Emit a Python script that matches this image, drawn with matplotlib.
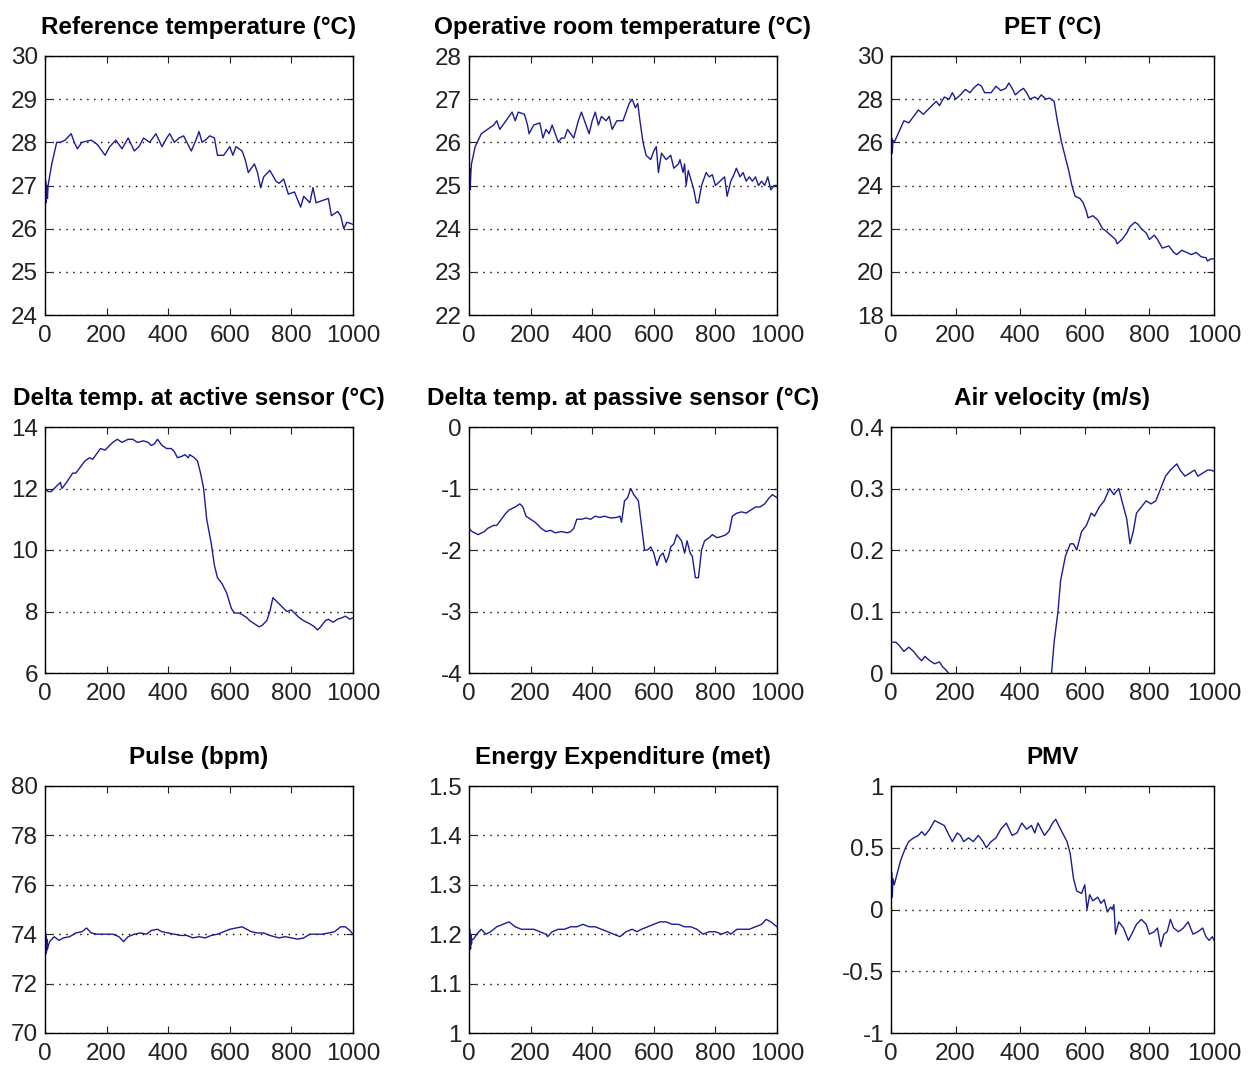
import numpy as np
import matplotlib
matplotlib.use('Agg')
from matplotlib import pyplot as plt

plt.rcParams['font.family'] = ['Liberation Sans', 'DejaVu Sans']

# sample index (x) and value pairs for each recorded signal
t_ref = [0, 2, 4, 6, 8, 10, 22, 38, 50, 65, 85, 95, 105, 120, 150, 170, 195, 210, 230, 250, 270,
         290, 305, 320, 340, 360, 380, 395, 405, 420, 435, 450, 475, 490, 500, 510, 520, 535, 550,
         560, 580, 600, 610, 620, 640, 650, 660, 680, 690, 700, 710, 730, 750, 760, 775, 790, 810,
         830, 840, 860, 870, 880, 900, 920, 930, 950, 960, 970, 980, 1000]
ref_temp = [26.5, 27.1, 26.6, 27.0, 26.7, 27.0, 27.5, 28.0, 28.0, 28.05, 28.2, 28.0, 27.85, 28.0,
            28.05, 27.95, 27.7, 27.9, 28.05, 27.85, 28.1, 27.8, 27.9, 28.1, 28.0, 28.2, 27.9, 28.1,
            28.2, 28.0, 28.1, 28.15, 27.8, 28.05, 28.25, 28.0, 28.05, 28.15, 28.1, 27.7, 27.7, 27.9,
            27.7, 27.9, 27.8, 27.6, 27.3, 27.5, 27.3, 26.95, 27.2, 27.35, 27.1, 27.05, 27.15, 26.8,
            26.85, 26.5, 26.75, 26.6, 26.95, 26.6, 26.65, 26.7, 26.3, 26.4, 26.3, 26.0, 26.15, 26.1]

t_op = [0, 2, 4, 6, 8, 20, 40, 60, 80, 90, 100, 110, 130, 140, 150, 160, 180, 190, 195, 210, 230,
        240, 250, 260, 270, 280, 290, 300, 310, 320, 340, 355, 365, 380, 390, 400, 410, 420, 430,
        445, 455, 465, 480, 500, 510, 520, 530, 540, 548, 555, 565, 575, 590, 600, 608, 615, 625,
        640, 655, 665, 680, 685, 695, 700, 705, 712, 722, 730, 738, 745, 755, 770, 780, 790, 800,
        815, 830, 838, 850, 860, 868, 880, 890, 900, 910, 920, 930, 940, 950, 960, 970, 980, 990,
        1000]
op_temp = [24.8, 25.4, 24.9, 25.3, 25.5, 25.9, 26.2, 26.3, 26.4, 26.5, 26.3, 26.4, 26.6, 26.7,
           26.5, 26.7, 26.65, 26.4, 26.2, 26.4, 26.45, 26.1, 26.3, 26.2, 26.4, 26.2, 26.0, 26.1,
           26.1, 26.3, 26.1, 26.5, 26.7, 26.4, 26.2, 26.5, 26.7, 26.4, 26.6, 26.5, 26.6, 26.3,
           26.5, 26.5, 26.7, 26.9, 27.0, 26.8, 26.9, 26.5, 26.0, 25.7, 25.6, 25.8, 25.9, 25.3,
           25.75, 25.6, 25.7, 25.4, 25.5, 25.6, 25.3, 25.5, 25.0, 25.35, 25.1, 24.9, 24.6, 24.6,
           25.0, 25.3, 25.2, 25.25, 25.0, 25.1, 25.2, 24.75, 25.1, 25.25, 25.4, 25.2, 25.3, 25.1,
           25.2, 25.1, 25.2, 25.0, 25.1, 25.0, 25.2, 24.9, 25.0, 25.0]

t_pet = [0, 2, 4, 6, 10, 25, 40, 55, 65, 85, 100, 120, 140, 150, 165, 180, 190, 200, 215, 230,
         245, 255, 270, 280, 290, 310, 325, 340, 355, 365, 375, 385, 400, 410, 420, 430, 445, 455,
         465, 480, 490, 505, 515, 528, 545, 550, 560, 570, 585, 595, 605, 610, 625, 640, 655, 665,
         680, 695, 700, 715, 730, 740, 755, 765, 775, 790, 800, 815, 825, 840, 860, 875, 885, 900,
         915, 930, 945, 960, 975, 980, 990, 1000]
pet = [25.4, 26.2, 25.5, 26.1, 26.0, 26.5, 27.0, 26.9, 27.1, 27.5, 27.3, 27.6, 27.9, 27.7, 28.1,
       28.0, 28.3, 28.0, 28.2, 28.45, 28.3, 28.5, 28.7, 28.6, 28.3, 28.3, 28.6, 28.4, 28.5, 28.75,
       28.5, 28.2, 28.4, 28.5, 28.3, 28.0, 28.1, 28.0, 28.2, 28.0, 28.05, 27.9, 27.0, 26.0, 25.0,
       24.7, 24.0, 23.5, 23.4, 23.2, 22.8, 22.5, 22.6, 22.4, 22.0, 21.9, 21.7, 21.5, 21.3, 21.5,
       21.8, 22.1, 22.3, 22.2, 22.0, 21.8, 21.5, 21.7, 21.5, 21.1, 21.2, 20.9, 20.8, 21.0, 20.9,
       20.8, 20.9, 20.7, 20.65, 20.5, 20.6, 20.6]

t_act = [0, 10, 20, 40, 50, 55, 70, 90, 100, 115, 130, 145, 155, 180, 195, 220, 235, 250, 270,
         285, 300, 320, 335, 345, 355, 365, 380, 395, 410, 420, 430, 445, 455, 465, 470, 485, 495,
         505, 515, 525, 540, 550, 560, 575, 590, 605, 615, 630, 640, 655, 665, 680, 695, 705, 720,
         730, 740, 755, 770, 785, 800, 810, 825, 840, 860, 875, 885, 895, 910, 920, 935, 950, 965,
         975, 990, 1000]
d_active = [12.0, 11.9, 11.9, 12.1, 12.2, 12.0, 12.2, 12.5, 12.5, 12.7, 12.9, 13.0, 12.95, 13.3,
            13.25, 13.5, 13.6, 13.5, 13.6, 13.6, 13.5, 13.55, 13.5, 13.4, 13.45, 13.6, 13.4, 13.3,
            13.3, 13.2, 13.0, 13.05, 13.1, 13.0, 13.1, 13.0, 12.9, 12.5, 12.0, 11.0, 10.2, 9.5,
            9.1, 8.9, 8.6, 8.1, 7.95, 7.95, 7.9, 7.8, 7.7, 7.6, 7.5, 7.55, 7.7, 8.0, 8.45, 8.3,
            8.15, 8.0, 8.05, 7.95, 7.8, 7.7, 7.6, 7.5, 7.4, 7.5, 7.7, 7.75, 7.65, 7.75, 7.8, 7.85,
            7.75, 7.8]

t_pas = [0, 10, 30, 50, 60, 80, 90, 105, 120, 130, 150, 165, 175, 185, 200, 215, 235, 250, 265,
         280, 300, 320, 330, 340, 350, 365, 380, 395, 410, 425, 440, 460, 480, 490, 495, 505, 515,
         525, 535, 550, 560, 570, 580, 590, 600, 610, 620, 630, 640, 648, 655, 665, 675, 690, 700,
         708, 718, 725, 735, 745, 755, 765, 780, 790, 805, 820, 835, 845, 855, 870, 885, 900, 915,
         930, 945, 960, 975, 985, 1000]
d_passive = [-1.65, -1.7, -1.75, -1.7, -1.65, -1.6, -1.6, -1.5, -1.4, -1.35, -1.3, -1.25, -1.3,
             -1.45, -1.5, -1.55, -1.65, -1.7, -1.68, -1.72, -1.7, -1.72, -1.7, -1.65, -1.5, -1.5,
             -1.48, -1.5, -1.45, -1.47, -1.45, -1.48, -1.47, -1.45, -1.55, -1.2, -1.15, -1.0,
             -1.1, -1.2, -1.6, -2.0, -2.0, -1.95, -2.05, -2.25, -2.1, -2.05, -2.2, -2.1, -1.95,
             -1.9, -1.75, -1.85, -2.05, -1.85, -2.05, -2.1, -2.45, -2.45, -2.0, -1.85, -1.8,
             -1.75, -1.8, -1.78, -1.75, -1.7, -1.45, -1.4, -1.38, -1.4, -1.35, -1.3, -1.3, -1.25,
             -1.15, -1.1, -1.15]

t_air = [0, 15, 25, 40, 55, 70, 85, 95, 105, 120, 135, 150, 160, 170, 178, 190, 300, 400, 490,
         497, 505, 517, 525, 540, 555, 565, 575, 590, 605, 620, 630, 645, 660, 677, 690, 705, 715,
         730, 740, 750, 760, 775, 790, 805, 820, 835, 850, 865, 885, 895, 910, 925, 940, 950, 965,
         980, 990, 1000]
air_vel = [0.05, 0.05, 0.045, 0.035, 0.042, 0.035, 0.025, 0.02, 0.027, 0.02, 0.015, 0.018, 0.01,
           0.005, 0.0, -0.01, -0.03, -0.03, -0.01, 0.0, 0.05, 0.1, 0.15, 0.19, 0.21, 0.21, 0.2,
           0.23, 0.24, 0.26, 0.255, 0.27, 0.28, 0.3, 0.29, 0.3, 0.28, 0.25, 0.21, 0.23, 0.26,
           0.27, 0.28, 0.275, 0.28, 0.3, 0.32, 0.33, 0.34, 0.33, 0.32, 0.325, 0.33, 0.32, 0.325,
           0.33, 0.33, 0.328]

t_pulse = [0, 1, 2, 3, 4, 5, 6, 8, 10, 15, 30, 45, 60, 80, 100, 120, 135, 150, 170, 200, 220,
           240, 255, 270, 290, 310, 330, 345, 365, 380, 400, 420, 440, 460, 480, 500, 520, 540,
           560, 580, 600, 620, 640, 655, 670, 690, 710, 730, 745, 760, 780, 800, 820, 840, 860,
           880, 900, 920, 940, 960, 975, 990, 1000]
pulse = [73.9, 73.0, 74.0, 73.2, 73.9, 73.3, 73.8, 73.4, 73.5, 73.7, 73.9, 73.75, 73.85, 73.9,
         74.05, 74.1, 74.25, 74.05, 74.0, 74.0, 74.0, 73.9, 73.7, 73.9, 74.0, 74.05, 74.0, 74.15,
         74.2, 74.1, 74.05, 74.0, 73.95, 73.95, 73.85, 73.9, 73.85, 73.95, 74.0, 74.1, 74.2,
         74.25, 74.3, 74.2, 74.1, 74.05, 74.05, 73.95, 73.9, 73.85, 73.9, 73.85, 73.8, 73.85,
         74.0, 74.0, 74.0, 74.05, 74.1, 74.3, 74.3, 74.15, 74.0]

t_met = [0, 1, 2, 3, 4, 5, 6, 8, 10, 15, 25, 40, 55, 70, 90, 110, 130, 150, 170, 190, 210, 230,
         250, 255, 270, 290, 310, 330, 350, 370, 390, 410, 430, 450, 470, 490, 510, 530, 545,
         560, 580, 600, 620, 640, 660, 680, 700, 720, 740, 760, 780, 800, 820, 840, 850, 870,
         890, 910, 930, 950, 965, 980, 990, 1000]
met = [1.2, 1.16, 1.21, 1.17, 1.2, 1.17, 1.2, 1.18, 1.19, 1.19, 1.2, 1.21, 1.2, 1.205, 1.215,
       1.22, 1.225, 1.215, 1.21, 1.21, 1.21, 1.205, 1.2, 1.195, 1.205, 1.21, 1.21, 1.215,
       1.215, 1.22, 1.215, 1.215, 1.21, 1.205, 1.2, 1.195, 1.205, 1.21, 1.205, 1.21, 1.215,
       1.22, 1.225, 1.225, 1.22, 1.22, 1.215, 1.215, 1.21, 1.2, 1.205, 1.205, 1.2, 1.205, 1.2,
       1.21, 1.21, 1.21, 1.215, 1.22, 1.23, 1.225, 1.22, 1.215]

t_pmv = [0, 2, 4, 6, 10, 20, 30, 45, 55, 70, 85, 95, 105, 120, 135, 150, 165, 180, 190, 205,
         215, 225, 240, 255, 270, 285, 295, 310, 325, 340, 357, 375, 390, 405, 420, 435, 445,
         455, 465, 475, 490, 500, 510, 525, 535, 545, 555, 565, 575, 590, 600, 607, 615, 625,
         640, 650, 660, 670, 680, 685, 690, 695, 705, 720, 735, 745, 760, 775, 790, 800, 815,
         825, 835, 845, 855, 865, 875, 890, 905, 920, 935, 950, 965, 975, 985, 995, 1000]
pmv = [0.05, 0.3, 0.1, 0.25, 0.2, 0.3, 0.4, 0.5, 0.55, 0.58, 0.6, 0.63, 0.6, 0.65, 0.72, 0.7,
       0.68, 0.6, 0.55, 0.62, 0.6, 0.55, 0.58, 0.55, 0.6, 0.55, 0.5, 0.55, 0.58, 0.65, 0.7, 0.6,
       0.62, 0.7, 0.65, 0.68, 0.62, 0.7, 0.65, 0.6, 0.65, 0.7, 0.73, 0.65, 0.6, 0.55, 0.45,
       0.25, 0.15, 0.13, 0.2, 0.0, 0.12, 0.07, 0.1, 0.05, 0.08, -0.02, 0.02, 0.0, 0.04, -0.2,
       -0.1, -0.15, -0.25, -0.2, -0.12, -0.08, -0.12, -0.2, -0.18, -0.15, -0.3, -0.2, -0.18,
       -0.08, -0.15, -0.18, -0.15, -0.1, -0.2, -0.18, -0.15, -0.22, -0.25, -0.22, -0.25]

panels = [
    ('Reference temperature (°C)', t_ref, ref_temp, (24, 30), np.arange(24, 31, 1)),
    ('Operative room temperature (°C)', t_op, op_temp, (22, 28), np.arange(22, 29, 1)),
    ('PET (°C)', t_pet, pet, (18, 30), np.arange(18, 31, 2)),
    ('Delta temp. at active sensor (°C)', t_act, d_active, (6, 14), np.arange(6, 15, 2)),
    ('Delta temp. at passive sensor (°C)', t_pas, d_passive, (-4, 0), np.arange(-4, 1, 1)),
    ('Air velocity (m/s)', t_air, air_vel, (0, 0.4), [0, 0.1, 0.2, 0.3, 0.4]),
    ('Pulse (bpm)', t_pulse, pulse, (70, 80), np.arange(70, 81, 2)),
    ('Energy Expenditure (met)', t_met, met, (1, 1.5), [1, 1.1, 1.2, 1.3, 1.4, 1.5]),
    ('PMV', t_pmv, pmv, (-1, 1), [-1, -0.5, 0, 0.5, 1]),
]

# pixel boxes of the subplot grid (left, right) and (top, bottom)
W, H = 1256, 1066
cols = [(45, 353), (469, 777), (891, 1214)]
rows = [(56, 315), (427, 673), (786, 1033)]

fig = plt.figure(figsize=(W / 100, H / 100), dpi=100)

for i, (title, t, y, ylim, yticks) in enumerate(panels):
    x0, x1 = cols[i % 3]
    y0, y1 = rows[i // 3]
    ax = fig.add_axes([x0 / W, 1 - y1 / H, (x1 - x0) / W, (y1 - y0) / H])
    ax.plot(t, y, color='#1c1c96', lw=1.0)
    ax.set_xlim(0, 1000)
    ax.set_ylim(*ylim)
    ax.set_xticks(np.arange(0, 1001, 200))
    ax.set_yticks(yticks)
    ax.set_yticklabels(['%g' % v for v in yticks])
    ax.tick_params(direction='in', length=5, width=0.8, top=True, right=True,
                   labelsize=17.5, colors='#222222', labelcolor='#222222')
    ax.tick_params(axis='x', pad=7)
    ax.tick_params(axis='y', pad=5)
    ax.yaxis.grid(True, color='black', linestyle=(0, (1, 4)), linewidth=1.0)
    for s in ax.spines.values():
        s.set_linewidth(1.0)
    ax.set_title(title, fontsize=17.5, fontweight='bold', pad=16)

plt.savefig('out.png', dpi=100)
